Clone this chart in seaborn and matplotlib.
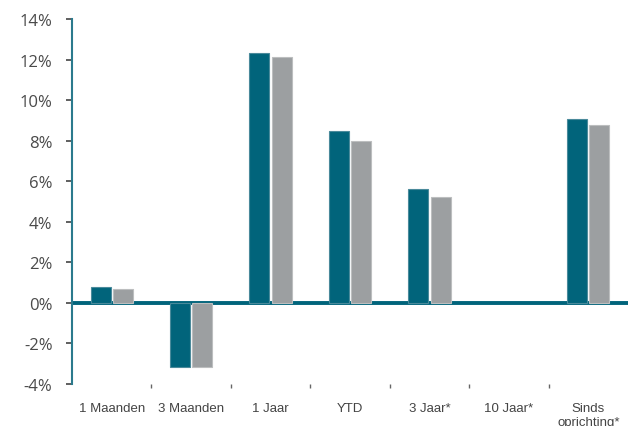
import numpy as np
import pandas as pd
import matplotlib
matplotlib.use("Agg")
import matplotlib.pyplot as plt
import seaborn as sns
from matplotlib.ticker import FuncFormatter

# Data
categories = ["1 Maanden", "3 Maanden", "1 Jaar", "YTD", "3 Jaar*", "10 Jaar*", "Sinds\noprichting*"]
fonds = [0.8, -3.15, 12.3, 8.5, 5.6, 0.0, 9.05]
benchmark = [0.7, -3.15, 12.15, 8.0, 5.2, 0.0, 8.75]
series = ["Fonds", "Benchmark"]

teal = "#01647b"
grey = "#9c9fa1"

df = pd.DataFrame({
    "categorie": categories * 2,
    "rendement": fonds + benchmark,
    "reeks": [series[0]] * len(categories) + [series[1]] * len(categories),
})

sns.set_style("white")
plt.rcParams["font.family"] = ["Open Sans", "DejaVu Sans"]

fig = plt.figure(figsize=(6.28, 4.27), dpi=100)
ax = fig.add_axes([72 / 628, 1 - 385 / 427, 1 - 72 / 628, (385 - 20) / 427])

sns.barplot(data=df, x="categorie", y="rendement", hue="reeks",
            palette=[teal, grey], saturation=1, width=0.56, gap=0.1,
            legend=False, zorder=3, ax=ax)

# light outline round each bar
for cont, ec in zip(ax.containers, ["#4a8a9b", "#bcbebf"]):
    for bar in cont:
        bar.set_edgecolor(ec)
        bar.set_linewidth(0.8 if bar.get_height() != 0 else 0)

# zero line
ax.axhline(0, color=teal, lw=2.8, zorder=1)

ax.set_ylim(-4, 14)
ax.set_xlim(-0.5, len(categories) - 0.5)
ax.set_yticks(np.arange(-4, 15, 2))
ax.yaxis.set_major_formatter(FuncFormatter(lambda v, p: f"{v:.0f}%"))

ax.set_xlabel("")
ax.set_ylabel("")

for s in ["top", "right", "bottom"]:
    ax.spines[s].set_visible(False)
ax.spines["left"].set_color("#2b7a8d")
ax.spines["left"].set_linewidth(1.5)

ax.tick_params(axis="y", left=True, length=4, width=1.2, color="#444444",
               pad=10, labelsize=12, labelcolor="#4a4a4a")
ax.tick_params(axis="x", which="major", bottom=False, length=0, pad=13,
               labelsize=9.5, labelcolor="#444444")
for lab in ax.get_xticklabels():
    lab.set_fontfamily(["Liberation Sans", "DejaVu Sans"])

# small marks between the categories
ax.set_xticks(np.arange(0.5, len(categories) - 1, 1), minor=True)
ax.tick_params(axis="x", which="minor", bottom=True, length=3, width=1,
               color="#666666", direction="out", pad=2)

fig.savefig("out.png", dpi=100)
